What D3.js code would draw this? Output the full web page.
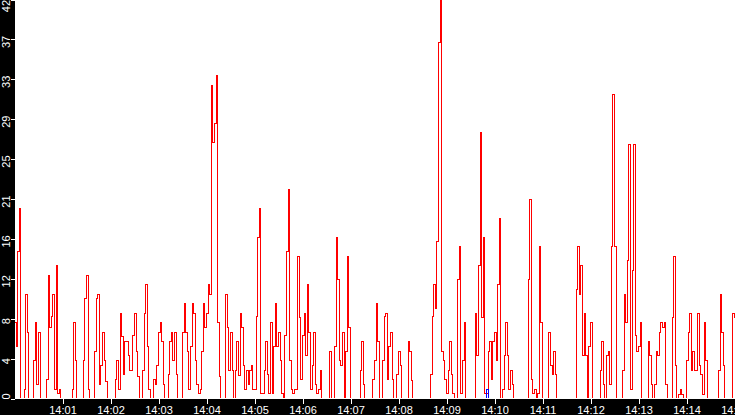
<!DOCTYPE html>
<html>
<head>
<meta charset="utf-8">
<script src="https://cdn.jsdelivr.net/npm/d3@7"></script>
<style>
  body { margin: 0; background: #fff; }
  svg { display: block; }
  text { font-family: "Liberation Sans", Arial, sans-serif; font-size: 11px; fill: #fff; }
</style>
</head>
<body>
<div id="chart"></div>
<script>
// red series, one reading every 2 seconds from 14:00:00
const rxValues = [
  // 14:00:00 - 14:02:28
  8, 5.5, 15.5, 20, 0, 0, 1, 11, 6.9, 0, 0, 0, 4, 8, 1.5, 7, 0, 0, 0, 0,
  2, 13, 7.5, 8.6, 11, 1, 14, 0.5, 1, 0, 0, 0, 0, 0, 0, 0, 1, 8, 4, 0,
  0, 0, 0, 4, 10.5, 13, 1, 0, 0, 0, 5, 10.5, 11, 1.5, 3.5, 7, 4, 1.8, 0, 0,
  0, 0, 0, 2, 4, 1, 9, 6.5, 2.5, 6, 6, 4.5, 3, 3, 6.6,
  // 14:02:30 - 14:04:58
  9, 5, 2.3, 0, 0, 3, 8.9, 12, 5.5, 1, 0, 0, 2, 1.5, 3.5, 7, 8, 6, 1.5, 0,
  0, 2.5, 6, 7, 4, 7, 2.5, 0, 0, 0, 7, 10, 7, 5, 1, 5.5, 10, 9, 4, 1.5,
  0.5, 1, 5, 10, 7.5, 9, 12, 11, 33, 27, 29, 34, 8, 2.3, 0, 0, 0, 11, 7.5, 2.9,
  7, 3, 0, 3, 6, 2.4, 9, 7.5, 3.5, 1, 3, 1.5, 3, 3.5, 1,
  // 14:05:00 - 14:07:28
  1, 8.6, 17, 20, 0.5, 0.5, 3, 6, 2.5, 0.5, 8, 0.5, 5.5, 10, 5.5, 7, 4, 0.5, 0, 6.6,
  15.5, 22, 4, 1, 0.5, 1, 1, 15, 8.5, 2, 6.6, 9, 4.5, 12, 7, 1, 3.5, 7, 1.5, 0.5,
  1, 3, 0, 0, 0, 0, 0, 5, 0, 0, 5.5, 17, 12.5, 4, 3.5, 7, 0, 5, 15, 7.5,
  0, 0, 0, 0, 0, 0, 3, 6, 1.5, 0, 0, 0, 0, 0, 2,
  // 14:07:30 - 14:09:58
  4, 10, 6, 0, 0, 4, 8.6, 9, 2, 5.5, 7, 2, 0, 0, 2.5, 5, 3.5, 0, 0, 0,
  0, 6, 5, 1.9, 0, 0, 0, 0, 0, 0, 0, 0, 0, 0, 0, 2.5, 8.6, 12, 9.5, 16.5,
  37.5, 42, 5, 4, 2, 0.5, 3, 6, 2.5, 0.5, 0, 0, 12.5, 16, 0.5, 4, 8, 0, 0, 0,
  0, 0, 0, 9, 4.5, 14, 28, 8.5, 17, 0.5, 0.5, 5, 6, 2, 6,
  // 14:10:00 - 14:12:28
  7, 4, 12, 19, 0, 1, 4.5, 8, 4.5, 1, 3, 1.5, 0, 0, 0, 0, 0, 0, 0, 0,
  0, 12.5, 21, 2, 0.5, 1, 0, 0.5, 16, 8, 0, 0, 0, 0, 7, 3.5, 2.5, 5, 2.5, 0,
  0, 0, 0, 0, 0, 0, 0, 0, 0, 0, 0, 11.5, 16, 11, 14, 4.5, 9, 4.5, 0, 5.5,
  8, 0, 0, 0, 0, 0, 3, 6, 1.5, 0, 4.5, 5, 1.5, 16, 32,
  // 14:12:30 - 14:15:00
  16, 0, 0, 0, 0, 3, 11, 8, 14.5, 26.7, 1, 13.5, 26.7, 6.6, 5, 5.5, 8, 0, 0, 0,
  0, 6, 4.5, 1.5, 0, 1.5, 5, 4.5, 7, 8, 7.5, 8, 1.5, 0, 0, 0, 8.5, 15, 3.5, 0,
  0.4, 1, 0.4, 0, 0, 4, 7, 9, 3, 5, 3, 3, 9, 3.5, 2.5, 0.4, 8, 4, 0, 0,
  0, 0, 0, 0, 0, 3, 11, 7, 3.5, 0, 0, 0, 0, 0, 9, 8.5,
];
const rxStepSeconds = 2;

// blue series: flat at zero apart from one small blip
const txSeconds = [0, 590, 592, 900];
const txValues = [0, 1, 0, 0];

const yTickValues = [0, 4.2, 8.4, 12.6, 16.8, 21, 25.2, 29.4, 33.6, 37.8, 42];
const yTickLabels = ['0', '4', '8', '12', '16', '21', '25', '29', '33', '37', '42'];
const startTime = new Date(2020, 0, 1, 14, 0, 0);
const endTime = new Date(2020, 0, 1, 14, 15, 0);

function drawChart() {
  const width = 735;
  const height = 415;
  const bandLeft = 15;
  const bandTop = 399;

  const svg = d3.select('#chart').append('svg')
    .attr('width', width)
    .attr('height', height);

  const x = d3.scaleTime().domain([startTime, endTime]).range([14.5, 734.5]);
  const y = d3.scaleLinear().domain([0, 42]).range([398.5, -0.5]);

  const rx = rxValues.map((v, i) => ({
    t: new Date(startTime.getTime() + i * rxStepSeconds * 1000),
    v,
  }));
  const tx = txSeconds.map((s, i) => ({
    t: new Date(startTime.getTime() + s * 1000),
    v: txValues[i],
  }));

  svg.append('clipPath')
    .attr('id', 'plot-clip')
    .append('rect')
    .attr('x', bandLeft)
    .attr('y', 0)
    .attr('width', width - bandLeft)
    .attr('height', 398);

  const line = d3.line()
    .x(d => x(d.t))
    .y(d => y(d.v))
    .curve(d3.curveStepAfter);

  const plot = svg.append('g').attr('clip-path', 'url(#plot-clip)');

  plot.append('path')
    .datum(rx)
    .attr('fill', 'none')
    .attr('stroke', '#ff0000')
    .attr('stroke-width', 1)
    .attr('shape-rendering', 'crispEdges')
    .attr('d', line);

  plot.append('path')
    .datum(tx)
    .attr('fill', 'none')
    .attr('stroke', '#0000ff')
    .attr('stroke-width', 1)
    .attr('shape-rendering', 'crispEdges')
    .attr('d', line);

  // black frame bands
  svg.append('rect')
    .attr('x', 0).attr('y', 0)
    .attr('width', bandLeft).attr('height', height)
    .attr('fill', '#000')
    .attr('shape-rendering', 'crispEdges');

  svg.append('rect')
    .attr('x', 0).attr('y', bandTop)
    .attr('width', width).attr('height', height - bandTop)
    .attr('fill', '#000')
    .attr('shape-rendering', 'crispEdges');

  const xAxis = d3.axisBottom(x)
    .tickValues(d3.timeMinute.range(new Date(2020, 0, 1, 14, 1), new Date(2020, 0, 1, 14, 15, 30)))
    .tickFormat(d3.timeFormat('%H:%M'))
    .tickSize(5)
    .tickPadding(2);

  const gx = svg.append('g')
    .attr('transform', `translate(0, ${bandTop})`)
    .call(xAxis);
  gx.select('.domain').remove();
  gx.selectAll('line').attr('stroke', '#fff').attr('shape-rendering', 'crispEdges');
  gx.selectAll('text')
    .attr('fill', '#fff')
    .style('font-family', '"Liberation Sans", Arial, sans-serif')
    .style('font-size', '11px');

  const yAxis = d3.axisLeft(y)
    .tickValues(yTickValues)
    .tickFormat((d, i) => yTickLabels[i])
    .tickSize(4);

  const gy = svg.append('g')
    .attr('transform', 'translate(14.5, 0)')
    .call(yAxis);
  gy.select('.domain').remove();
  gy.selectAll('line').attr('stroke', '#fff').attr('shape-rendering', 'crispEdges');
  gy.selectAll('text')
    .attr('x', null)
    .attr('dy', null)
    .attr('fill', '#fff')
    .attr('text-anchor', 'middle')
    .style('font-family', '"Liberation Sans", Arial, sans-serif')
    .style('font-size', '11px')
    .attr('transform', (d, i) => {
      let off = 2;
      if (i === 0) off = -2.5;
      if (i === yTickValues.length - 1) off = 6;
      return `translate(-5, ${off}) rotate(-90)`;
    });
}

drawChart();
</script>
</body>
</html>
